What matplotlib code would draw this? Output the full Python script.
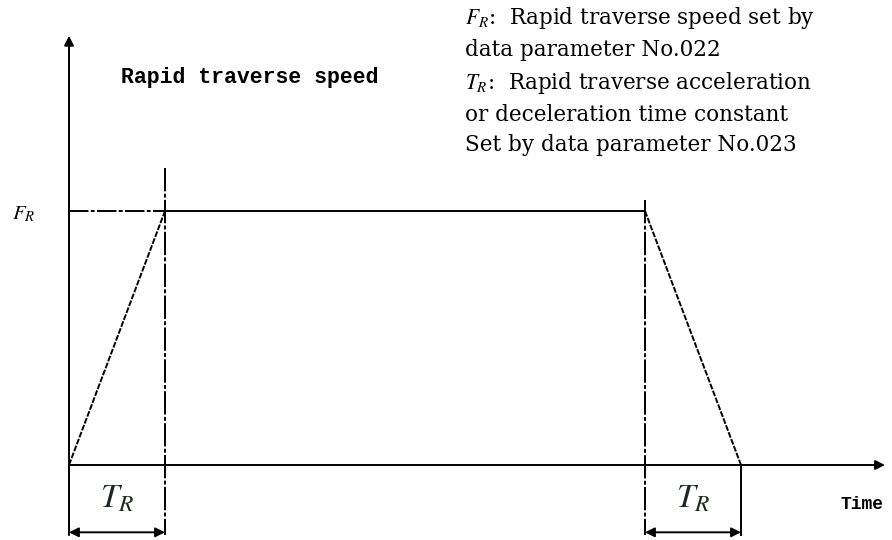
import matplotlib.pyplot as plt

plt.rcParams['mathtext.fontset'] = 'stix'

# speed profile in units of T_R (time) and F_R (speed)
time = [0, 1, 6, 7]
speed = [0, 1, 1, 0]
t_accel = 1
t_decel_start = 6
t_end = 7

fig = plt.figure(figsize=(8.92, 5.4), dpi=100)
ax = fig.add_axes([0, 0, 1, 1])
# 1 time unit = 96 px, 1 speed unit = 254 px, origin at (69, 465) px from top-left
ax.set_xlim(-69 / 96, (892 - 69) / 96)
ax.set_ylim(-75 / 254, 465 / 254)
ax.axis('off')

lw = 1.4
k = 'black'

# axes with arrows
ax.annotate('', xy=(0, 1.69), xytext=(0, -0.276),
            arrowprops=dict(arrowstyle='-|>', color=k, lw=lw, mutation_scale=14, shrinkA=0, shrinkB=0))
ax.annotate('', xy=(8.5, 0), xytext=(0, 0),
            arrowprops=dict(arrowstyle='-|>', color=k, lw=lw, mutation_scale=14, shrinkA=0, shrinkB=0))

# ramp up / constant / ramp down
ax.plot(time[0:2], speed[0:2], color=k, lw=lw, ls=(0, (3, 0.8)))
ax.plot(time[1:3], speed[1:3], color=k, lw=lw)
ax.plot(time[2:4], speed[2:4], color=k, lw=lw, ls=(0, (3, 0.8)))

# F_R reference line and T_R guide lines
ax.plot([0, t_accel], [1, 1], color=k, lw=lw, ls=(0, (10, 1.2, 2, 1.2)))
ax.plot([t_accel, t_accel], [1.169, -0.276], color=k, lw=lw, ls=(0, (12, 1.2, 2, 1.2)))
ax.plot([t_decel_start, t_decel_start], [1.043, -0.276], color=k, lw=lw, ls=(0, (12, 1.2, 2, 1.2)))
ax.plot([t_end, t_end], [0, -0.276], color=k, lw=lw)

# T_R dimension arrows
for a, b in [(0, t_accel), (t_decel_start, t_end)]:
    ax.annotate('', xy=(b, -0.265), xytext=(a, -0.265),
                arrowprops=dict(arrowstyle='<|-|>', color=k, lw=lw, mutation_scale=14, shrinkA=0, shrinkB=0))
    ax.text((a + b) / 2, -0.13, r'$T_R$', fontsize=24, ha='center', va='center',
            color='#1c2a1c')

ax.text(-0.47, 0.99, r'$F_R$', fontsize=15, ha='center', va='center')
ax.text(1.885, 1.524, 'Rapid traverse speed', fontsize=15.5, fontweight='bold',
        family='Liberation Mono', ha='center', va='center')
ax.text(8.26, -0.157, 'Time', fontsize=13, fontweight='bold',
        family='Liberation Mono', ha='center', va='center')

notes = [r'$F_R$:  Rapid traverse speed set by',
         'data parameter No.022',
         r'$T_R$:  Rapid traverse acceleration',
         'or deceleration time constant',
         'Set by data parameter No.023']
note_y = [18, 50, 83, 115, 145]
for s, y in zip(notes, note_y):
    ax.text(4.125, (465 - y) / 254, s, fontsize=15.5, family='DejaVu Serif',
            ha='left', va='center')

fig.savefig('out.png', dpi=100)
